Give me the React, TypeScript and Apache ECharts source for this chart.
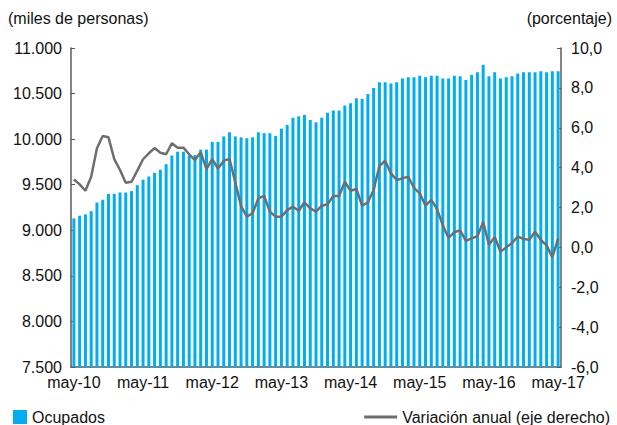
import React, { useEffect, useRef } from "react";
import * as echarts from "echarts";

const monthNames = ["ene", "feb", "mar", "abr", "may", "jun", "jul", "ago", "sep", "oct", "nov", "dic"];
const categories: string[] = [];
for (let i = 0; i < 85; i++) {
  const m = (4 + i) % 12;
  const y = 10 + Math.floor((4 + i) / 12);
  categories.push(`${monthNames[m]}-${y}`);
}

const ocupados = [
  9130, 9160, 9175, 9210, 9305, 9335, 9400, 9400, 9415, 9415, 9430, 9495,
  9555, 9590, 9630, 9665, 9725, 9820, 9862, 9862, 9820, 9825, 9885, 9885,
  9970, 9970, 10030, 10075, 10030, 10020, 10010, 10020, 10075, 10065, 10065, 10035,
  10115, 10155, 10235, 10250, 10265, 10210, 10185, 10235, 10290, 10315, 10315, 10370,
  10395, 10450, 10440, 10495, 10560, 10625, 10625, 10610, 10625, 10665, 10680, 10680,
  10695, 10680, 10695, 10695, 10665, 10665, 10695, 10690, 10650, 10705, 10735, 10815,
  10690, 10735, 10665, 10680, 10690, 10720, 10735, 10735, 10735, 10745, 10735, 10745,
  10745,
];

const variacion = [
  3.41, 3.16, 2.84, 3.54, 4.97, 5.59, 5.52, 4.43, 3.88, 3.24, 3.29, 3.85,
  4.42, 4.72, 4.98, 4.75, 4.67, 5.22, 5.0, 5.0, 4.67, 4.38, 4.77, 3.92,
  4.43, 3.95, 4.35, 4.43, 3.26, 2.07, 1.54, 1.71, 2.46, 2.58, 1.79, 1.54,
  1.54, 1.87, 2.04, 1.84, 2.26, 1.96, 1.79, 2.09, 2.16, 2.58, 2.58, 3.29,
  2.84, 2.93, 2.09, 2.26, 2.88, 4.08, 4.35, 3.71, 3.38, 3.46, 3.54, 2.98,
  2.71, 2.09, 2.38, 1.92, 1.1, 0.47, 0.77, 0.85, 0.33, 0.45, 0.56, 1.27,
  0.13, 0.52, -0.22, 0.0, 0.22, 0.54, 0.42, 0.38, 0.78, 0.37, 0.1, -0.5,
  0.45,
];

const FONT = "'Liberation Sans', Arial, Helvetica, sans-serif";
const BAR_COLOR = "#00AEEF";
const LINE_COLOR = "#6e6e6e";
const AXIS_COLOR = "#5a5a5a";

export default function App() {
  const ref = useRef<HTMLDivElement>(null);
  useEffect(() => {
    if (!ref.current) return;
    const chart = echarts.init(ref.current, null, { renderer: "svg" });
    const axisLine = { show: true, lineStyle: { color: AXIS_COLOR, width: 1.5 } };
    chart.setOption({
      animation: false,
      textStyle: { fontFamily: FONT },
      grid: { left: 71, right: 56, top: 48, bottom: 58 },
      legend: [
        {
          data: ["Ocupados"],
          left: 8,
          top: 404,
          icon: "rect",
          itemWidth: 14,
          itemHeight: 14,
          textStyle: { fontFamily: FONT, fontSize: 16, color: "#111" },
        },
        {
          data: ["Variación anual (eje derecho)"],
          right: 2,
          top: 404,
          icon: "rect",
          itemWidth: 33,
          itemHeight: 3,
          textStyle: { fontFamily: FONT, fontSize: 16, color: "#111" },
        },
      ],
      graphic: [
        {
          type: "text",
          left: 8,
          top: 10,
          style: { text: "(miles de personas)", font: `16px ${FONT}`, fill: "#111" },
        },
        {
          type: "text",
          right: 5,
          top: 10,
          style: { text: "(porcentaje)", font: `16px ${FONT}`, fill: "#111" },
        },
      ],
      xAxis: {
        type: "category",
        data: categories,
        boundaryGap: true,
        axisLine: { show: true, onZero: false, lineStyle: { color: AXIS_COLOR, width: 1.5 } },
        axisTick: { show: true, inside: true, interval: 11, alignWithLabel: true, length: 4, lineStyle: { color: AXIS_COLOR } },
        axisLabel: { interval: 11, margin: 7, fontSize: 16, color: "#111", fontFamily: FONT },
        splitLine: { show: false },
      },
      yAxis: [
        {
          type: "value",
          min: 7500,
          max: 11000,
          interval: 500,
          position: "left",
          axisLine,
          axisTick: { show: true, inside: true, length: 4, lineStyle: { color: AXIS_COLOR } },
          axisLabel: {
            margin: 9,
            fontSize: 16,
            color: "#111",
            fontFamily: FONT,
            formatter: (v: number) => v.toLocaleString("de-DE"),
          },
          splitLine: { show: false },
        },
        {
          type: "value",
          min: -6,
          max: 10,
          interval: 2,
          position: "right",
          axisLine,
          axisTick: { show: true, inside: true, length: 4, lineStyle: { color: AXIS_COLOR } },
          axisLabel: {
            margin: 10,
            fontSize: 16,
            color: "#111",
            fontFamily: FONT,
            formatter: (v: number) => v.toFixed(1).replace(".", ","),
          },
          splitLine: { show: false },
        },
      ],
      series: [
        {
          name: "Ocupados",
          type: "bar",
          data: ocupados,
          yAxisIndex: 0,
          barWidth: 3,
          itemStyle: { color: BAR_COLOR },
        },
        {
          name: "Variación anual (eje derecho)",
          type: "line",
          data: variacion,
          yAxisIndex: 1,
          showSymbol: false,
          symbol: "none",
          lineStyle: { color: LINE_COLOR, width: 2.5 },
          itemStyle: { color: LINE_COLOR },
        },
      ],
    });
    return () => chart.dispose();
  }, []);
  return <div ref={ref} style={{ position: "absolute", left: 0, top: 0, width: 617, height: 425 }} />;
}
